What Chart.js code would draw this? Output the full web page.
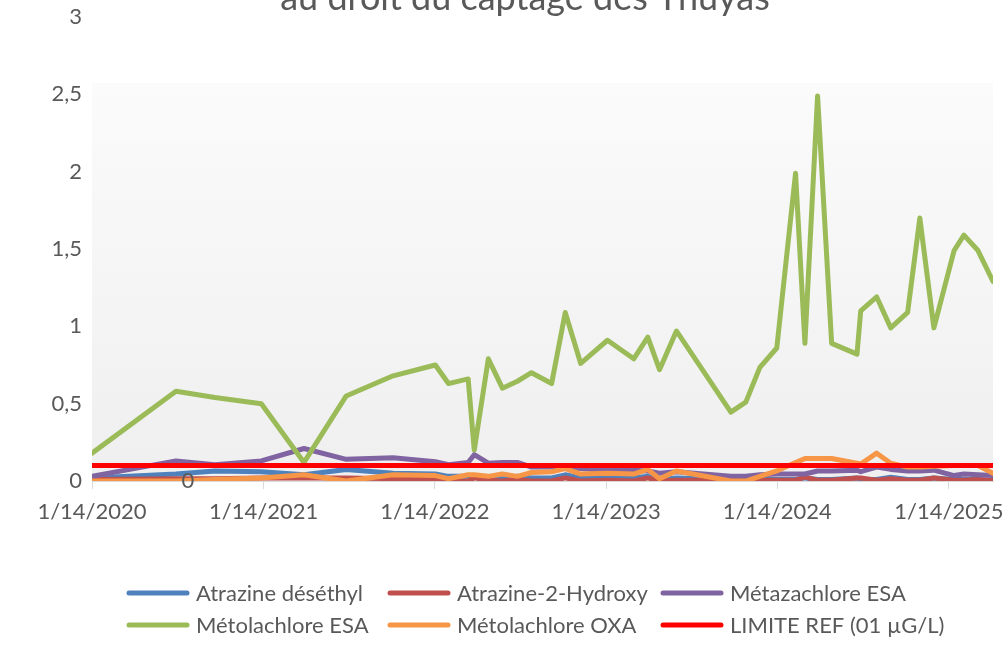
<!DOCTYPE html>
<html>
<head>
<meta charset="utf-8">
<script src="https://cdn.jsdelivr.net/npm/chart.js@4"></script>
<style>
html,body{margin:0;padding:0;background:#fff;}
#wrap{width:1007px;height:662px;position:relative;}
</style>
</head>
<body>
<div id="wrap"><canvas id="c" width="1007" height="662"></canvas></div>
<script>
const dates = ['2020-01-14','2020-07-11','2020-10-02','2021-01-09','2021-04-10','2021-07-09','2021-10-17','2022-01-15','2022-02-12','2022-03-26','2022-04-08','2022-05-08','2022-06-07','2022-07-09','2022-08-08','2022-09-20','2022-10-19','2022-11-21','2023-01-17','2023-03-14','2023-04-13','2023-05-08','2023-06-13','2023-10-07','2023-11-08','2023-12-08','2024-01-13','2024-02-22','2024-03-13','2024-04-09','2024-05-09','2024-07-02','2024-07-10','2024-08-13','2024-09-12','2024-10-18','2024-11-13','2024-12-13','2025-01-25','2025-02-15','2025-03-17','2025-04-18'];
const atrazineDeseth = [0.02,0.045,0.065,0.06,0.04,0.075,0.05,0.045,0.03,0.03,0.03,0.02,0.02,0.03,0.02,0.02,0.04,0.02,0.02,0.02,0.03,0.01,0.02,0.01,0.01,0.01,0.01,0.01,0.02,0.01,0.01,0.02,0.01,0.01,0.025,0.01,0.01,0.02,0.01,0.01,0.01,0.0];
const atrazineHydroxy = [0.01,0.015,0.015,0.02,0.02,0.02,0.015,0.01,0.0,0.0,0.02,0.005,0.0,0.01,0.0,0.0,0.02,0.0,0.005,0.0,0.02,0.0,0.005,0.005,0.005,0.005,0.005,0.005,0.025,0.005,0.005,0.02,0.02,0.005,0.015,0.005,0.005,0.02,0.005,0.005,0.01,0.005];
const metazachloreESA = [0.03,0.13,0.105,0.13,0.21,0.14,0.15,0.125,0.105,0.12,0.17,0.115,0.12,0.12,0.09,0.09,0.09,0.08,0.07,0.07,0.065,0.05,0.06,0.03,0.03,0.04,0.045,0.045,0.045,0.065,0.065,0.07,0.06,0.09,0.075,0.065,0.065,0.07,0.035,0.045,0.04,0.035];
const metolachloreESA = [0.18,0.58,0.54,0.50,0.12,0.55,0.68,0.75,0.63,0.66,0.20,0.79,0.60,0.645,0.70,0.63,1.09,0.76,0.91,0.79,0.93,0.72,0.97,0.445,0.51,0.735,0.86,1.99,0.89,2.49,0.89,0.82,1.10,1.19,0.99,1.09,1.70,0.99,1.49,1.59,1.49,1.29];
const metolachloreOXA = [0.0,0.0,0.01,0.02,0.04,0.0,0.04,0.035,0.015,0.04,0.04,0.03,0.045,0.03,0.055,0.06,0.08,0.045,0.05,0.045,0.075,0.015,0.065,0.0,0.0,0.03,0.065,0.12,0.145,0.145,0.145,0.115,0.11,0.18,0.115,0.09,0.09,0.095,0.1,0.1,0.1,0.05];
const limiteRef = dates.map(() => 0.1);
const seriesNames = ['Atrazine déséthyl','Atrazine-2-Hydroxy','Métazachlore ESA','Métolachlore ESA','Métolachlore OXA','LIMITE REF (01 µG/L)'];
const seriesColors = ['#4F81BD','#C0504D','#8064A2','#9BBB59','#F79646','#FF0000'];
const xTickDates = ['2020-01-14','2021-01-14','2022-01-14','2023-01-14','2024-01-14','2025-01-14'];
const yTicks = [0,0.5,1,1.5,2,2.5,3];
const titleText = 'au droit du captage des Thuyas';

const xs = dates.map(d => Date.parse(d));
const allSeries = [atrazineDeseth, atrazineHydroxy, metazachloreESA, metolachloreESA, metolachloreOXA, limiteRef];
const datasets = allSeries.map((vals, i) => ({
  label: seriesNames[i],
  data: vals.map((v, j) => ({x: xs[j], y: v})),
  borderColor: seriesColors[i],
  backgroundColor: seriesColors[i],
  borderWidth: 5,
  pointRadius: 0,
  pointHoverRadius: 0,
  tension: 0,
  borderJoinStyle: 'round',
  borderCapStyle: 'round',
  fill: false,
  order: allSeries.length - i
}));

const FONT = 'Lato, "Open Sans", sans-serif';
const TXT = '#595959';

const bgPlugin = {
  id: 'bg',
  beforeDatasetsDraw(chart) {
    const {ctx, chartArea} = chart;
    const top = 83;
    const g = ctx.createLinearGradient(0, top, 0, chartArea.bottom);
    g.addColorStop(0, '#fbfbfb');
    g.addColorStop(1, '#efefef');
    ctx.save();
    ctx.fillStyle = g;
    ctx.fillRect(chartArea.left, top, chartArea.right - chartArea.left, chartArea.bottom - top);
    ctx.restore();
  }
};

const decoPlugin = {
  id: 'deco',
  afterDraw(chart) {
    const ctx = chart.ctx;
    ctx.save();
    ctx.fillStyle = TXT;
    ctx.font = '36px ' + FONT;
    ctx.textAlign = 'center';
    ctx.textBaseline = 'alphabetic';
    ctx.fillText(titleText, 525, 10);
    ctx.font = '22px ' + FONT;
    ctx.textBaseline = 'middle';
    ctx.fillText('0', 188, 481);
    const cols = [127, 388, 661];
    const rows = [593, 625];
    ctx.textAlign = 'left';
    ctx.font = '22px ' + FONT;
    seriesNames.forEach((name, i) => {
      const x = cols[i % 3], y = rows[Math.floor(i / 3)];
      ctx.strokeStyle = seriesColors[i];
      ctx.lineWidth = 5;
      ctx.lineCap = 'round';
      ctx.beginPath();
      ctx.moveTo(x + 2, y);
      ctx.lineTo(x + 60, y);
      ctx.stroke();
      ctx.fillStyle = TXT;
      ctx.fillText(name, x + 69, y + 1);
    });
    ctx.restore();
  }
};

function fmtDate(v) {
  const d = new Date(v);
  return (d.getUTCMonth() + 1) + '/' + d.getUTCDate() + '/' + d.getUTCFullYear();
}

new Chart(document.getElementById('c'), {
  type: 'line',
  data: { datasets },
  options: {
    responsive: false,
    animation: false,
    events: [],
    layout: { padding: { top: 17, right: 14, left: 0, bottom: 0 } },
    plugins: { legend: { display: false }, title: { display: false }, tooltip: { enabled: false } },
    scales: {
      x: {
        type: 'linear',
        min: xs[0],
        max: xs[xs.length - 1],
        afterBuildTicks(scale) { scale.ticks = xTickDates.map(d => ({ value: Date.parse(d) })); },
        afterFit(scale) { scale.height = 181; scale.paddingLeft = 0; scale.paddingRight = 0; },
        ticks: {
          callback: v => fmtDate(v),
          autoSkip: false, maxRotation: 0, minRotation: 0,
          color: TXT, font: { family: FONT, size: 22 }, padding: 10
        },
        grid: { display: true, drawOnChartArea: false, drawTicks: true, tickLength: 8, color: '#d9d9d9', lineWidth: 1 },
        border: { display: true, color: '#d9d9d9', width: 1 }
      },
      y: {
        min: 0, max: 3,
        afterBuildTicks(scale) { scale.ticks = yTicks.map(v => ({ value: v })); },
        afterFit(scale) { scale.width = 92; scale.paddingTop = 0; scale.paddingBottom = 0; },
        ticks: {
          callback: v => String(v).replace('.', ','),
          color: TXT, font: { family: FONT, size: 22 }, padding: 10
        },
        grid: { display: false, drawTicks: false },
        border: { display: false }
      }
    }
  },
  plugins: [bgPlugin, decoPlugin]
});
</script>
</body>
</html>
